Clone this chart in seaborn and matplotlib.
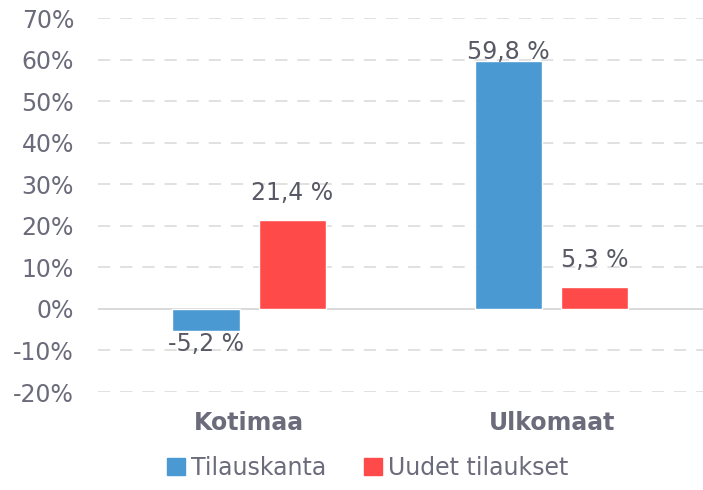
import matplotlib
matplotlib.use("Agg")
import matplotlib.pyplot as plt
import seaborn as sns
import pandas as pd
from matplotlib.ticker import FuncFormatter, MultipleLocator

# data (percent)
categories = ["Kotimaa", "Ulkomaat"]
series = ["Tilauskanta", "Uudet tilaukset"]
tilauskanta = [-5.2, 59.8]
uudet_tilaukset = [21.4, 5.3]

colors = {"Tilauskanta": "#4A99D3", "Uudet tilaukset": "#FF4A4A"}

df = pd.DataFrame({
    "Alue": categories * 2,
    "Sarja": [series[0]] * len(categories) + [series[1]] * len(categories),
    "Muutos": tilauskanta + uudet_tilaukset,
})

sns.set_style("white")
plt.rcParams["font.family"] = ["DejaVu Sans"]
plt.rcParams["axes.unicode_minus"] = False

fig = plt.figure(figsize=(7.03, 4.9), dpi=100)
ax = fig.add_axes([0.139, 0.2, 0.861, 0.763])

sns.barplot(data=df, x="Alue", y="Muutos", hue="Sarja", hue_order=series,
            order=categories, palette=colors, width=0.57, gap=0.22,
            saturation=1, legend=False, ax=ax, zorder=3)

ax.set_xlim(-0.5, 1.5)
ax.set_ylim(-20, 70)
ax.yaxis.set_major_locator(MultipleLocator(10))
ax.yaxis.set_major_formatter(FuncFormatter(lambda v, p: f"{int(round(v))}%"))

# gridlines: dashed, zero line solid
for v in range(-20, 71, 10):
    if v == 0:
        ax.axhline(0, color="#D9D9D9", lw=1.4, zorder=2)
    else:
        ax.axhline(v, color="#D9D9D9", lw=1.1, ls=(0, (8, 6.5)), zorder=1)

for s in ax.spines.values():
    s.set_visible(False)
ax.tick_params(axis="y", length=0, pad=17, labelsize=17, labelcolor="#6B6B7B")
ax.tick_params(axis="x", length=0, pad=14, labelsize=17, labelcolor="#6B6B7B")
for t in ax.get_xticklabels():
    t.set_fontweight("bold")
ax.set_xlabel("")
ax.set_ylabel("")

# value labels
for cont in ax.containers:
    for bar in cont:
        v = bar.get_height()
        x = bar.get_x() + bar.get_width() / 2
        txt = f"{v:.1f} %".replace(".", ",")
        if v < 0:
            ax.annotate(txt, (x, v), xytext=(0, -1), textcoords="offset points",
                        ha="center", va="top", fontsize=17, color="#595966")
        else:
            off = -2.5 if v > 55 else 11
            ax.annotate(txt, (x, v), xytext=(0, off), textcoords="offset points",
                        ha="center", va="bottom", fontsize=17, color="#595966",
                        zorder=5)

handles = [plt.Rectangle((0, 0), 1, 1, color=colors[s]) for s in series]
fig.legend(handles, series, loc="center", bbox_to_anchor=(0.523, 0.045),
           ncol=2, frameon=False, fontsize=17, labelcolor="#6B6B7B",
           handlelength=0.75, handleheight=0.75, handletextpad=0.25,
           columnspacing=1.6)

fig.savefig("out.png", dpi=100)
